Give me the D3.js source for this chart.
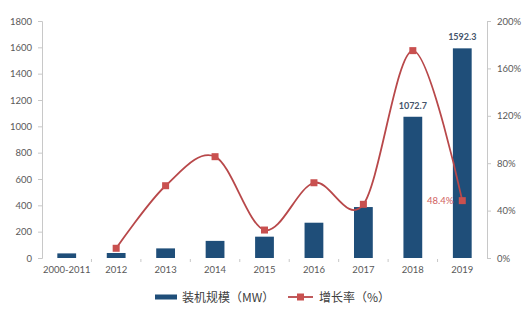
<!DOCTYPE html>
<html><head><meta charset="utf-8">
<script src="https://cdn.jsdelivr.net/npm/d3@7"></script>
<style>body{margin:0;background:#fff}svg{display:block}</style>
</head><body>
<script>
const categories = ["2000-2011","2012","2013","2014","2015","2016","2017","2018","2019"];
const capacity = [35, 38, 73, 130, 162, 268, 387, 1072.7, 1592.3];
const growth = [null, 8.2, 61, 85.5, 23.6, 63.5, 45.3, 175, 48.4];
const leftTicks = [0,200,400,600,800,1000,1200,1400,1600,1800];
const rightTicks = [0,40,80,120,160,200];
const seriesNames = ["装机规模（MW）","增长率（%）"];

const W=530,H=318;
const m={l:42,r:43,t:21,b:60};
const svg=d3.select("body").append("svg").attr("width",W).attr("height",H);
const x=d3.scaleBand().domain(categories).range([m.l,W-m.r]).paddingInner(0.62).paddingOuter(0.31);
const xc=d3.scaleBand().domain(categories).range([m.l,W-m.r]);
const yL=d3.scaleLinear().domain([0,1800]).range([H-m.b,m.t]);
const yR=d3.scaleLinear().domain([0,200]).range([H-m.b,m.t]);
const barColor="#1f4e79", lineColor="#b8484a", markColor="#c9504f";
const font="Lato, 'Noto Sans', sans-serif";
const cjk="'Noto Sans CJK SC', sans-serif";

// left axis
const gl=svg.append("g").attr("transform",`translate(${m.l},0)`).call(d3.axisLeft(yL).tickValues(leftTicks).tickFormat(d3.format("d")).tickSize(4).tickPadding(6));
gl.select(".domain").attr("stroke","#c8c8c8");
gl.selectAll(".tick line").attr("stroke","#c8c8c8");
gl.selectAll("text").attr("fill","#595959").style("font-family",font).style("font-size","9.5px");

const gr=svg.append("g").attr("transform",`translate(${W-m.r},0)`).call(d3.axisRight(yR).tickValues(rightTicks).tickFormat(d=>d+"%").tickSize(4).tickPadding(6));
gr.select(".domain").attr("stroke","#c8c8c8");
gr.selectAll(".tick line").attr("stroke","#c8c8c8");
gr.selectAll("text").attr("fill","#595959").style("font-family",font).style("font-size","9.5px");

// bottom axis
const gb=svg.append("g").attr("transform",`translate(0,${H-m.b})`).call(d3.axisBottom(xc).tickSize(0).tickPadding(8));
gb.select(".domain").remove();
gb.selectAll("text").attr("fill","#595959").style("font-family",font).style("font-size","9.5px");
svg.append("g").selectAll("line").data(categories.slice(1)).join("line")
 .attr("x1",d=>xc(d)).attr("x2",d=>xc(d)).attr("y1",H-m.b+1).attr("y2",H-m.b+4).attr("stroke","#c8c8c8");

// bars
svg.append("g").selectAll("rect").data(capacity).join("rect")
 .attr("x",(d,i)=>x(categories[i])).attr("width",x.bandwidth())
 .attr("y",d=>yL(d)).attr("height",d=>yL(0)-yL(d)).attr("fill",barColor);

// labels
[7,8].forEach(i=>{
 svg.append("text").attr("x",x(categories[i])+x.bandwidth()/2).attr("y",yL(capacity[i])-8)
  .attr("text-anchor","middle").attr("fill","#44546a").style("font-family",font).style("font-size","9px").style("font-weight","bold")
  .text(capacity[i]);
});

// line
const pts=growth.map((g,i)=>g==null?null:[xc(categories[i])+xc.bandwidth()/2,yR(g)]).filter(p=>p);
svg.append("path").attr("d",d3.line().curve(d3.curveCardinal.tension(0))(pts))
 .attr("fill","none").attr("stroke",lineColor).attr("stroke-width",1.8);
svg.append("g").selectAll("rect").data(pts).join("rect")
 .attr("x",p=>p[0]-3.5).attr("y",p=>p[1]-3.5).attr("width",7).attr("height",7).attr("fill",markColor);
svg.append("text").attr("x",pts[pts.length-1][0]-9).attr("y",pts[pts.length-1][1]+3.5)
 .attr("text-anchor","end").attr("fill","#d0605e").style("font-family",font).style("font-size","9.5px").text(growth[8]+"%");

// legend
const ly=297;
svg.append("rect").attr("x",155).attr("y",ly-2.5).attr("width",22).attr("height",5).attr("fill",barColor);
svg.append("text").attr("x",182).attr("y",ly+4.5).attr("fill","#404040").style("font-family",cjk).style("font-size","12px").text(seriesNames[0]);
svg.append("line").attr("x1",288).attr("x2",313).attr("y1",ly).attr("y2",ly).attr("stroke",lineColor).attr("stroke-width",1.8);
svg.append("rect").attr("x",297).attr("y",ly-3.5).attr("width",7).attr("height",7).attr("fill",markColor);
svg.append("text").attr("x",319).attr("y",ly+4.5).attr("fill","#404040").style("font-family",cjk).style("font-size","12px").text(seriesNames[1]);
</script>
</body></html>
